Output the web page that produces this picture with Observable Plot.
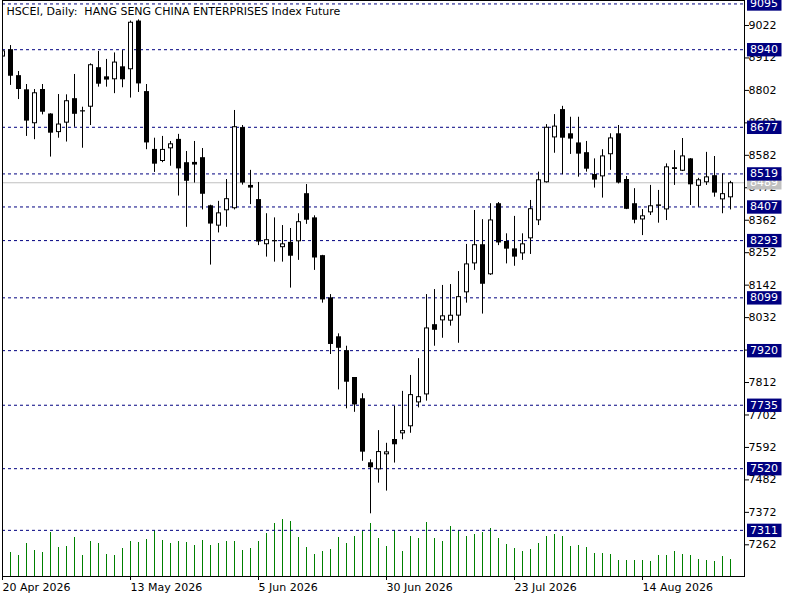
<!DOCTYPE html>
<html><head><meta charset="utf-8">
<script src="https://cdn.jsdelivr.net/npm/d3@7"></script>
<script src="https://cdn.jsdelivr.net/npm/@observablehq/plot@0.6"></script>
<style>
html,body{margin:0;padding:0;background:#fff;}
#wrap{position:relative;width:800px;height:600px;overflow:hidden;}
#wrap svg{position:absolute;left:0;top:0;}
</style></head><body><div id="wrap"></div>
<script>
const title = "HSCEI, Daily:  HANG SENG CHINA ENTERPRISES Index Future";
const dates = [
"2026-04-20","2026-04-21","2026-04-22","2026-04-23","2026-04-24","2026-04-27","2026-04-28","2026-04-29","2026-04-30",
"2026-05-04","2026-05-05","2026-05-06","2026-05-07","2026-05-08","2026-05-11","2026-05-12","2026-05-13","2026-05-14","2026-05-15",
"2026-05-18","2026-05-19","2026-05-20","2026-05-21","2026-05-22","2026-05-26","2026-05-27","2026-05-28","2026-05-29",
"2026-06-01","2026-06-02","2026-06-03","2026-06-04","2026-06-05","2026-06-08","2026-06-09","2026-06-10","2026-06-11","2026-06-12",
"2026-06-15","2026-06-16","2026-06-17","2026-06-18","2026-06-22","2026-06-23","2026-06-24","2026-06-25","2026-06-26","2026-06-29","2026-06-30",
"2026-07-02","2026-07-03","2026-07-06","2026-07-07","2026-07-08","2026-07-09","2026-07-10","2026-07-13","2026-07-14","2026-07-15","2026-07-16","2026-07-17",
"2026-07-20","2026-07-21","2026-07-22","2026-07-23","2026-07-24","2026-07-27","2026-07-28","2026-07-29","2026-07-30","2026-07-31",
"2026-08-03","2026-08-04","2026-08-05","2026-08-06","2026-08-07","2026-08-10","2026-08-11","2026-08-12","2026-08-13","2026-08-14",
"2026-08-17","2026-08-18","2026-08-19","2026-08-20","2026-08-21","2026-08-24","2026-08-25","2026-08-26","2026-08-27","2026-08-28","2026-08-31"];
const open = [8915,8940,8852,8804,8689,8805,8722,8659,8691,8774,8733,8745,8879,8848,8838,8882,8872,9037,8798,8602,8561,8604,8636,8557,8558,8574,8411,8342,8394,8401,
8676,8480,8432,8279,8293,8269,8287,8289,8452,8370,8242,8099,7967,7920,7829,7757,7540,7516,7567,7619,7638,7662,7743,7770,8008,8021,8020,8037,8116,8214,
8279,8177,8418,8290,8265,8248,8299,8360,8489,8641,8737,8655,8624,8591,8517,8509,8584,8655,8500,8418,8363,8387,8414,8397,8540,8528,8570,8477,8489,8513,8431,8438];
const high = [8950,8954,8866,8822,8805,8822,8723,8788,8787,8856,8745,8892,8934,8907,8929,8937,9037,9041,8822,8640,8646,8629,8653,8595,8629,8605,8413,8426,8500,8734,
8683,8531,8490,8384,8370,8344,8334,8384,8483,8377,8243,8110,7977,7935,7829,7774,7550,7649,7606,7731,7782,7836,7893,8110,8127,8141,8144,8188,8280,8395,
8364,8418,8422,8316,8375,8316,8429,8525,8686,8720,8748,8711,8711,8629,8570,8601,8655,8683,8510,8469,8398,8480,8463,8553,8598,8639,8571,8504,8592,8578,8519,8494];
const low = [8900,8819,8771,8646,8635,8719,8576,8640,8627,8677,8606,8683,8813,8813,8791,8811,8776,8795,8601,8524,8557,8545,8444,8338,8488,8397,8210,8319,8338,8397,
8481,8415,8276,8237,8220,8220,8132,8226,8348,8192,8081,7907,7787,7723,7711,7545,7367,7471,7444,7539,7618,7640,7726,7749,7935,7962,8003,7945,8081,8192,
8044,8175,8276,8214,8206,8226,8246,8344,8488,8589,8516,8585,8508,8525,8471,8437,8531,8485,8398,8350,8310,8378,8352,8361,8480,8527,8412,8406,8480,8440,8384,8397];
const close = [8936,8850,8805,8698,8794,8728,8657,8688,8767,8721,8729,8889,8823,8837,8898,8838,9033,8824,8624,8552,8602,8621,8536,8494,8549,8450,8349,8387,8435,8679,
8488,8471,8288,8296,8289,8282,8240,8357,8362,8234,8092,7941,7928,7813,7736,7576,7523,7578,7577,7601,7649,7771,7764,7997,7989,8038,8040,8103,8214,8279,
8145,8363,8285,8264,8237,8282,8401,8499,8677,8681,8640,8637,8586,8535,8498,8580,8641,8488,8399,8362,8377,8411,8409,8543,8534,8580,8482,8499,8509,8454,8452,8489];
const volume = [3000,2400,2100,3300,2600,2400,4400,2900,3000,3900,2100,3500,3300,2200,2100,2800,3500,3400,3700,4600,3600,3300,3500,3400,3100,3600,3100,3300,3500,3500,
2600,2800,3500,4300,5300,5700,5500,3900,2900,2200,2500,2700,3900,3300,4000,4600,5300,3800,3000,4600,2500,4000,3800,5400,3800,3500,5000,4600,4000,4200,
4400,4800,3800,3200,2800,2500,2700,3300,4000,4200,4000,3000,3100,2900,2300,2300,2200,1600,1600,1600,1600,1500,2100,2100,2500,2200,2100,1700,1600,1500,2000,1700];
const levels = [9095,8940,8677,8519,8407,8293,8099,7920,7735,7520,7311];
const lastPrice = [8489];
const priceTicks = [9022,8912,8802,8692,8582,8472,8362,8252,8142,8032,7922,7812,7702,7592,7482,7372,7262];
const dateTickIdx = [0,16,32,48,64,80];

const candles = dates.map((d,i)=>({i, date:d, open:open[i], high:high[i], low:low[i], close:close[i], volume:volume[i], up: close[i]>=open[i],
  top: Math.max(open[i],close[i]), bot: Math.min(open[i],close[i])}));

const W=800, H=600, mL=2, mR=56, mT=0, mB=24, barStep=8;
const xDomain=[0,(W-mL-mR)/barStep];
const yDomain=[7154.6, 9106.7];
const parse=d3.utcParse("%Y-%m-%d"), fmt=d3.utcFormat("%-d %b %Y");
const common = {width:W, height:H, marginLeft:mL, marginRight:mR, marginTop:mT, marginBottom:mB,
  style:{fontFamily:"DejaVu Sans", fontSize:"11px", background:"transparent", color:"black"}};

const volPlot = Plot.plot({...common,
  x:{type:"linear", domain:xDomain, axis:null},
  y:{domain:[0,57600], axis:null},
  marks:[Plot.ruleX(candles,{x:"i", y1:0, y2:"volume", stroke:"#008000", clip:true})]
});

const pricePlot = Plot.plot({...common,
  x:{type:"linear", domain:xDomain},
  y:{domain:yDomain},
  marks:[
    Plot.ruleY(levels,{y:d=>d, stroke:"#000080", strokeDasharray:"3,3"}),
    Plot.ruleY(lastPrice,{y:d=>d, stroke:"#c0c0c0"}),
    Plot.ruleX(candles,{x:"i", y1:"high", y2:"low", stroke:"black", clip:true}),
    Plot.ruleX(candles,{x:"i", y1:"top", y2:"bot", stroke:"black", strokeWidth:5, clip:true}),
    Plot.ruleX(candles.filter(d=>d.up),{x:"i", y1:"top", y2:"bot", stroke:"white", strokeWidth:3, insetTop:1, insetBottom:1, clip:true}),
    Plot.frame({stroke:"black"}),
    Plot.axisY({anchor:"right", ticks:priceTicks, tickSize:4, tickPadding:0, tickFormat:d=>String(d), label:null}),
    Plot.axisX({anchor:"bottom", ticks:dateTickIdx, tickSize:4, tickPadding:2.5, tickFormat:i=>fmt(parse(dates[i])), textAnchor:"start", label:null}),
    Plot.text(lastPrice,{y:d=>d, text:d=>String(d), frameAnchor:"right", dx:5.5, textAnchor:"start", fill:"white"}),
    Plot.text(levels,{y:d=>d, text:d=>String(d), frameAnchor:"right", dx:5.5, textAnchor:"start", fill:"white"}),
    Plot.text([title],{text:d=>d, frameAnchor:"top-left", dx:4, dy:6.7, textAnchor:"start", lineAnchor:"top", fill:"black"})
  ]
});

const wrap=document.getElementById("wrap");
wrap.append(volPlot, pricePlot);

const lastSet = new Set(lastPrice.map(String));
d3.select(pricePlot).selectAll("text").filter(function(){
  const g=this.closest("[fill]");
  return g && g.getAttribute("fill")==="white";
}).each(function(){
  const bb=this.getBBox();
  const r=document.createElementNS("http://www.w3.org/2000/svg","rect");
  r.setAttribute("x", bb.x-3);
  r.setAttribute("width", bb.width+6.5);
  r.setAttribute("y", bb.y+bb.height/2-6.7);
  r.setAttribute("height", 13.4);
  r.setAttribute("fill", lastSet.has(this.textContent.trim()) ? "#c0c0c0" : "#000080");
  r.setAttribute("stroke","none");
  const t=this.getAttribute("transform");
  if(t) r.setAttribute("transform", t);
  this.parentNode.insertBefore(r,this);
});
</script></body></html>
